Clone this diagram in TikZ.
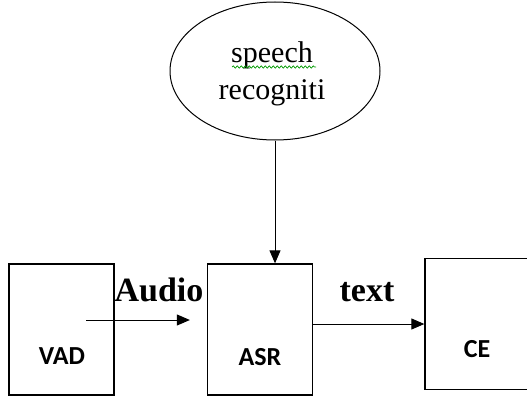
\documentclass[tikz,border=0pt]{standalone}
\usepackage{fontspec}
\setmainfont{Liberation Serif}
\newfontfamily\boxfont{Carlito}
\usetikzlibrary{shapes.geometric,arrows.meta,decorations.pathmorphing}

\begin{document}
\begin{tikzpicture}[
   x=1pt,y=-1pt,
   block/.style={draw,line width=1.3pt,minimum width=105pt,minimum height=131pt,inner sep=0pt},
   cloud/.style={draw,ellipse,line width=1pt,minimum width=210pt,minimum height=138pt,inner sep=0pt},
   lbl/.style={font=\boxfont\bfseries\fontsize{26}{30}\selectfont,inner sep=0pt},
   tag/.style={font=\bfseries\fontsize{34}{38}\selectfont,inner sep=0pt},
   flow/.style={-{Triangle[length=13pt,width=11pt]},line width=1pt}]
\useasboundingbox (0,0) rectangle (527,396);
\node[cloud] (speech) at (275,71) {};
\node[align=center,font=\fontsize{30}{37}\selectfont,inner sep=0pt] (speechtxt) at (272,74) {speech\\recogniti};
\draw[green!60!black,line width=0.7pt,decorate,decoration={snake,amplitude=1.2pt,segment length=4pt}]
   ([xshift=-40pt,yshift=7pt]speechtxt.center) -- ([xshift=44pt,yshift=7pt]speechtxt.center);
\node[block] (vad) at (61.5,329.5) {};
\node[block] (asr) at (260,329.5) {};
\node[block,minimum width=110pt] (ce) at (480,324) {};
\node[lbl] (vadtxt) at (62,356) {VAD};
\node[lbl] (asrtxt) at (260,357) {ASR};
\node[lbl] (cetxt) at (477,349) {CE};
% connectors
\coordinate (audiostart) at ([xshift=24.5pt,yshift=9.5pt]vad.center);
\draw[flow,shorten >=17pt] (audiostart) -- (audiostart -| asr.west);
\node[tag] (audio) at (159,290) {Audio};
\draw[flow] (asr.east |- ce.west) -- (ce.west);
\node[tag] (text) at (367,292) {text};
\draw[flow] (speech.south -| 275,0) -- (asr.north -| 275,0);
\end{tikzpicture}
\end{document}
